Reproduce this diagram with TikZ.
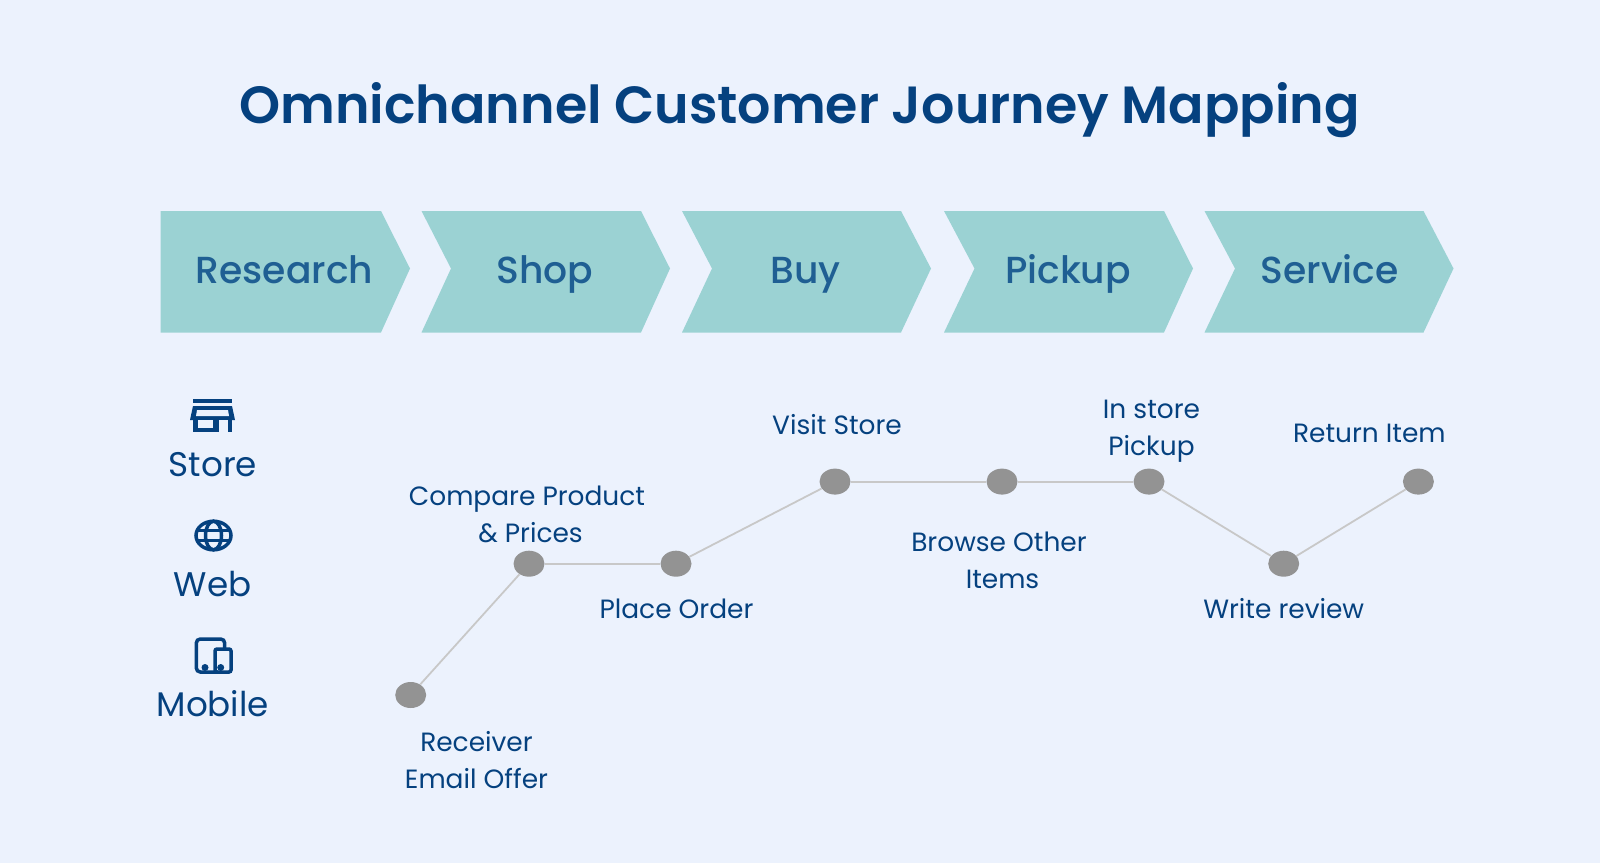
\documentclass[tikz,border=0pt]{standalone}
\usepackage{fontspec}
\setmainfont{Poppins}
\newfontfamily\titlefont{Poppins SemiBold}
\newfontfamily\stepfont{Poppins Medium}
\usetikzlibrary{shapes.geometric}
\definecolor{pagebg}{HTML}{ECF2FD}
\definecolor{chevronfill}{HTML}{9BD2D3}
\definecolor{chevrontext}{HTML}{1F5F93}
\definecolor{navy}{HTML}{05417F}
\definecolor{dotgray}{HTML}{939393}
\definecolor{linegray}{HTML}{C8C8C8}
\tikzset{
  chevron/.style={fill=chevronfill, draw=none},
  steplabel/.style={text=chevrontext, font=\stepfont\fontsize{26.8}{32}\selectfont, inner sep=0pt, anchor=base},
  touch/.style={ellipse, fill=dotgray, minimum width=31*0.25mm, minimum height=26*0.25mm, inner sep=0pt},
  link/.style={draw=linegray, line width=0.45mm},
  tag/.style={text=navy, font=\fontsize{18.8}{26.3}\selectfont, align=center, inner sep=0pt},
  channel/.style={text=navy, font=\fontsize{24.3}{28}\selectfont, inner sep=0pt, anchor=base},
  iconline/.style={draw=navy, line width=0.875mm}
}
\begin{document}
\begin{tikzpicture}[x=0.25mm,y=-0.25mm]
\useasboundingbox[fill=pagebg] (0,0) rectangle (1600,863);

\node[text=navy, inner sep=0pt, font=\titlefont\fontsize{37.2}{44}\selectfont] (title) at (799.5,110.5) {Omnichannel Customer Journey Mapping};

\fill[chevron] (160.5,211) -- (381,211) -- (410,268.5) -- (381,332.5) -- (160.5,332.5) -- cycle;
\fill[chevron] (421.5,211) -- (641,211) -- (670,268.5) -- (641,332.5) -- (421.5,332.5) -- (451,268.5) -- cycle;
\fill[chevron] (682,211) -- (901,211) -- (931,268.5) -- (901,332.5) -- (682,332.5) -- (712,268.5) -- cycle;
\fill[chevron] (944,211) -- (1164,211) -- (1193,268.5) -- (1164,332.5) -- (944,332.5) -- (974.5,268.5) -- cycle;
\fill[chevron] (1204.5,211) -- (1423.5,211) -- (1453.5,268.5) -- (1423.5,332.5) -- (1204.5,332.5) -- (1235,268.5) -- cycle;

\node[steplabel] (research) at (284.5,283.5) {Research};
\node[steplabel] (shop) at (545,283.5) {Shop};
\node[steplabel] (buy) at (805.5,283.5) {Buy};
\node[steplabel] (pickup) at (1068,283.5) {Pickup};
\node[steplabel] (service) at (1329.5,283.5) {Service};

\fill[navy] (193,399) rectangle (232,403);
\fill[navy] (193,406) -- (232,406) -- (235,420) -- (190,420) -- cycle;
\fill[pagebg] (197,410) -- (228,410) -- (229,416) -- (196,416) -- cycle;
\fill[navy] (193,420) rectangle (232,432);
\fill[pagebg] (198,420) rectangle (213,428);
\fill[pagebg] (219,420) rectangle (228,432);
\node[channel] (store) at (212.8,476.5) {Store};

\draw[iconline] (213.5,535.5) ellipse (17.5 and 14.3);
\draw[iconline] (213.5,535.5) ellipse (8 and 14.3);
\draw[iconline] (196,530.7) -- (231,530.7);
\draw[iconline] (196,540.7) -- (231,540.7);
\node[channel] (web) at (212.8,596) {Web};

\draw[iconline, rounded corners=1mm] (218,672) -- (196.3,672) -- (196.3,639) -- (224.7,639) -- (224.7,649);
\draw[iconline, rounded corners=0.5mm] (215,649) rectangle (231,672);
\fill[navy] (205,667.5) circle (3.5);
\fill[navy] (220.7,667.5) circle (3.5);
\node[channel] (mobile) at (212.8,716.5) {Mobile};

\node[touch] (email) at (410.7,695) {};
\node[touch] (compare) at (529,563.7) {};
\node[touch] (order) at (676,563.7) {};
\node[touch] (visit) at (835,481.6) {};
\node[touch] (browse) at (1002,481.6) {};
\node[touch] (instore) at (1149,481.6) {};
\node[touch] (review) at (1283.7,563.7) {};
\node[touch] (return) at (1418.4,481.6) {};

\draw[link] (email) -- (compare);
\draw[link] (compare) -- (order);
\draw[link] (order) -- (visit);
\draw[link] (visit) -- (browse);
\draw[link] (browse) -- (instore);
\draw[link] (instore) -- (review);
\draw[link] (review) -- (return);

\node[tag] (emailtag) at (476.5,760) {Receiver\\Email Offer};
\node[tag] (comparetag) at (527,514) {Compare Product\\\hspace*{5pt}\& Prices};
\node[tag] (ordertag) at (676.5,609) {Place Order};
\node[tag] (visittag) at (837,425) {Visit Store};
\node[tag] (browsetag) at (999,560) {Browse Other\\\hspace*{5pt}Items};
\node[tag] (instoretag) at (1151.5,431) {In store\\Pickup};
\node[tag] (reviewtag) at (1283.7,609) {Write review};
\node[tag] (returntag) at (1369.4,433.5) {Return Item};
\end{tikzpicture}
\end{document}
